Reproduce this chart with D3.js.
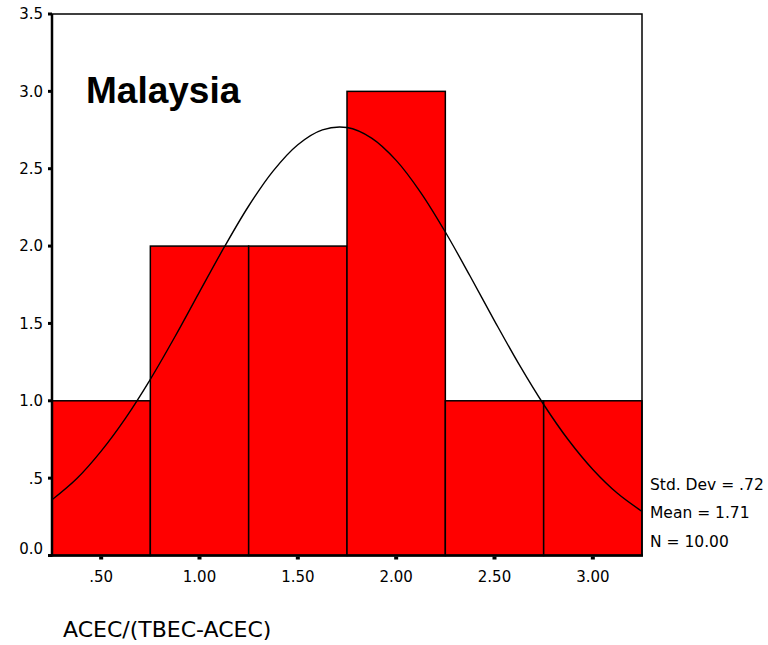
<!DOCTYPE html>
<html><head><meta charset="utf-8">
<script src="https://cdn.jsdelivr.net/npm/d3@7"></script>
<style>body{margin:0;background:#fff;}svg{display:block;font-family:"DejaVu Sans",Verdana,sans-serif;}</style>
</head><body>
<svg id="chart" width="768" height="645"></svg>
<script>
// Data
const binStarts = [0.25, 0.75, 1.25, 1.75, 2.25, 2.75];
const binWidth = 0.5;
const counts = [1, 2, 2, 3, 1, 1];
const xTicks = [0.5, 1.0, 1.5, 2.0, 2.5, 3.0];
const xTickLabels = [".50", "1.00", "1.50", "2.00", "2.50", "3.00"];
const yTicks = [0, 0.5, 1.0, 1.5, 2.0, 2.5, 3.0, 3.5];
const yTickLabels = ["0.0", ".5", "1.0", "1.5", "2.0", "2.5", "3.0", "3.5"];
const curveX = [0.25,0.375,0.5,0.625,0.75,0.875,1.0,1.125,1.25,1.375,1.5,1.625,1.75,1.875,2.0,2.125,2.25,2.375,2.5,2.625,2.75,2.875,3.0,3.125,3.25];
const curveY = [0.360,0.496,0.675,0.890,1.139,1.414,1.704,1.991,2.259,2.486,2.655,2.751,2.766,2.698,2.554,2.346,2.091,1.808,1.517,1.235,0.976,0.748,0.556,0.402,0.285];
const statsLines = ["Std. Dev = .72", "Mean = 1.71", "N = 10.00"];
const title = "Malaysia";
const xAxisTitle = "ACEC/(TBEC-ACEC)";

const svg = d3.select("#chart");
const L = 52, R = 642, T = 14, B = 555.5;
const x = d3.scaleLinear().domain([0.25, 3.25]).range([L, R]);
const y = d3.scaleLinear().domain([0, 3.5]).range([B, T]);

svg.append("rect").attr("x", L).attr("y", T).attr("width", R - L).attr("height", B - T)
  .attr("fill", "#fff");

// bars
svg.append("g").selectAll("rect").data(binStarts).join("rect")
  .attr("x", d => x(d))
  .attr("y", (d, i) => y(counts[i]))
  .attr("width", d => x(d + binWidth) - x(d))
  .attr("height", (d, i) => y(0) - y(counts[i]))
  .attr("fill", "#ff0000").attr("stroke", "#000").attr("stroke-width", 1.5);

// normal curve
const line = d3.line().x(d => x(d[0])).y(d => y(d[1])).curve(d3.curveCatmullRom);
svg.append("path").datum(curveX.map((v, i) => [v, curveY[i]]))
  .attr("d", line).attr("fill", "none").attr("stroke", "#000").attr("stroke-width", 1.4);

// frame
svg.append("rect").attr("x", L).attr("y", T).attr("width", R - L).attr("height", B - T)
  .attr("fill", "none").attr("stroke", "#000").attr("stroke-width", 1.5);
svg.append("line").attr("x1", L).attr("x2", L).attr("y1", T).attr("y2", B + 1)
  .attr("stroke", "#000").attr("stroke-width", 2.5);
svg.append("line").attr("x1", L).attr("x2", R + 1).attr("y1", B).attr("y2", B)
  .attr("stroke", "#000").attr("stroke-width", 2.5);

// y axis ticks
const yg = svg.append("g");
yg.selectAll("rect").data(yTicks).join("rect")
  .attr("x", L - 4).attr("y", d => y(d) - 1.5).attr("width", 4).attr("height", 3).attr("fill", "#000");
yg.selectAll("text").data(yTicks).join("text")
  .attr("x", L - 9).attr("y", d => Math.min(y(d), B - 7))
  .attr("dy", "0.36em").attr("text-anchor", "end")
  .attr("font-size", 15).attr("fill", "#000")
  .text((d, i) => yTickLabels[i]);

// x axis ticks
const xg = svg.append("g");
xg.selectAll("rect").data(xTicks).join("rect")
  .attr("x", d => x(d) - 2).attr("y", B + 1).attr("width", 4).attr("height", 3).attr("fill", "#000");
xg.selectAll("text").data(xTicks).join("text")
  .attr("x", d => x(d)).attr("y", 577).attr("dy", "0.36em").attr("text-anchor", "middle")
  .attr("font-size", 15).attr("fill", "#000")
  .text((d, i) => xTickLabels[i]);

// title inside plot
svg.append("text").attr("x", 86).attr("y", 103).attr("font-size", 37)
  .attr("font-family", "'Liberation Sans', Arial, sans-serif").attr("font-weight", "bold")
  .attr("fill", "#000").text(title);

// stats
svg.append("g").selectAll("text").data(statsLines).join("text")
  .attr("x", 650).attr("y", (d, i) => 484 + i * 28.5).attr("dy", "0.36em")
  .attr("font-size", 15.5).attr("fill", "#000").text(d => d);

// x axis title
svg.append("text").attr("x", 63).attr("y", 629).attr("dy", "0.36em").attr("font-size", 22)
  .attr("fill", "#000").text(xAxisTitle);
</script>
</body></html>
